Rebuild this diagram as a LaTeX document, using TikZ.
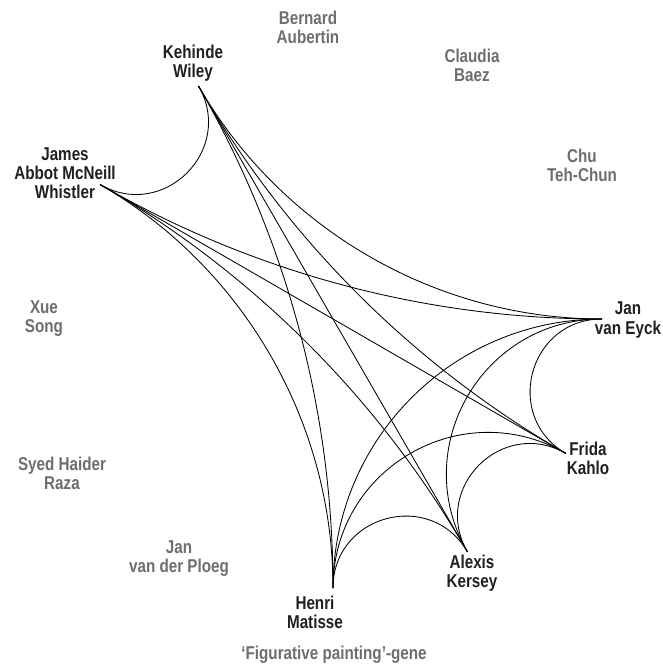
\documentclass[tikz,border=0pt]{standalone}
\usepackage{fontspec}
\setmainfont{Liberation Sans}[FakeStretch=0.82]
\usepackage{tikz}
\definecolor{mutegray}{RGB}{109,110,113}
\definecolor{inkblack}{RGB}{35,31,32}

\begin{document}
\begin{tikzpicture}[x=0.025cm,y=0.025cm,
    artist/.style={align=center,inner sep=0pt,text=inkblack,font=\bfseries\fontsize{13.2}{13.6}\selectfont},
    faded/.style={artist,text=mutegray},
    tie/.style={line width=0.6pt,black}]
   \useasboundingbox (-333,-353) rectangle (330,319);
   \path
    (0:269) coordinate (eyck)
    (-30:269) coordinate (kahlo)
    (-60:269) coordinate (kersey)
    (-90:269) coordinate (matisse)
    (150:269) coordinate (whistler)
    (120:269) coordinate (wiley)
    ;

    % namen rond de cirkel
    \node[faded] (naubertin) at (-25,292) {Bernard\\Aubertin};
    \node[faded] (nbaez) at (139,254) {Claudia\\Baez};
    \node[faded] (nchu) at (249,154) {Chu\\Teh-Chun};
    \node[artist] (neyck) at (295,-1) {Jan\\van Eyck};
    \node[artist] (nkahlo) at (255,-139) {Frida\\Kahlo};
    \node[artist] (nkersey) at (139,-254) {Alexis\\Kersey};
    \node[artist] (nmatisse) at (-18,-293) {Henri\\Matisse};
    \node[faded] (nploeg) at (-154,-240) {Jan\\van der Ploeg};
    \node[faded] (nraza) at (-271,-154) {Syed Haider\\Raza};
    \node[faded] (nsong) at (-289,0) {Xue\\Song};
    \node[artist] (nwhistler) at (-268,146) {James\\Abbot McNeill\\Whistler};
    \node[artist] (nwiley) at (-140,256) {Kehinde\\Wiley};

    % verbindingen
    \draw[tie] (wiley) to[out=300,in=330,looseness=1.35] (whistler);
    \draw[tie] (wiley) to[out=300,in=180,looseness=0.91] (eyck);
    \draw[tie] (wiley) to[out=300,in=150,looseness=0.87] (kahlo);
    \draw[tie] (wiley) -- (kersey);
    \draw[tie] (wiley) to[out=300,in=90,looseness=0.87] (matisse);
    \draw[tie] (whistler) to[out=330,in=180,looseness=0.87] (eyck);
    \draw[tie] (whistler) -- (kahlo);
    \draw[tie] (whistler) to[out=330,in=120,looseness=0.87] (kersey);
    \draw[tie] (whistler) to[out=330,in=90,looseness=0.91] (matisse);
    \draw[tie] (eyck) to[out=180,in=150,looseness=1.35] (kahlo);
    \draw[tie] (eyck) to[out=180,in=120,looseness=1.14] (kersey);
    \draw[tie] (eyck) to[out=180,in=90,looseness=1.0] (matisse);
    \draw[tie] (kahlo) to[out=150,in=120,looseness=1.35] (kersey);
    \draw[tie] (kahlo) to[out=150,in=90,looseness=1.14] (matisse);
    \draw[tie] (kersey) to[out=120,in=90,looseness=1.35] (matisse);

    % titel
    \node[faded] (gene) at (1,-336) {‘Figurative painting’-gene};

\end{tikzpicture}
\end{document}
